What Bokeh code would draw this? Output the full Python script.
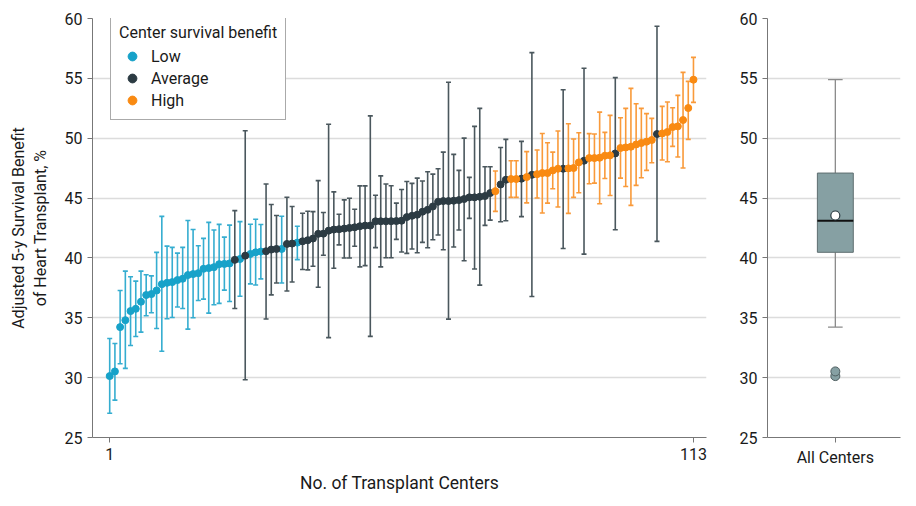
import numpy as np
from bokeh.plotting import figure
from bokeh.models import (Range1d, FixedTicker, Whisker, TeeHead, ColumnDataSource,
                          Legend, LegendItem, LinearAxis)
from bokeh.layouts import row
from bokeh.embed import file_html
from bokeh.resources import INLINE

# ---------------- data ----------------
estimate = [30.13, 30.52, 34.22, 34.80, 35.56, 35.75, 36.34, 36.90, 36.98, 37.28,
            37.81, 37.92, 37.98, 38.15, 38.26, 38.57, 38.65, 38.73, 39.09, 39.15,
            39.23, 39.48, 39.50, 39.54, 39.84, 39.91, 40.19, 40.33, 40.47, 40.53,
            40.56, 40.70, 40.75, 40.75, 41.17, 41.20, 41.28, 41.39, 41.48, 41.62,
            42.01, 42.03, 42.28, 42.37, 42.40, 42.45, 42.51, 42.56, 42.65, 42.70,
            42.70, 43.06, 43.06, 43.06, 43.07, 43.08, 43.11, 43.41, 43.52, 43.61,
            43.86, 44.02, 44.30, 44.69, 44.75, 44.75, 44.78, 44.83, 44.92, 45.06,
            45.06, 45.11, 45.17, 45.42, 45.58, 46.14, 46.53, 46.59, 46.59, 46.62,
            46.75, 46.94, 47.00, 47.09, 47.09, 47.31, 47.45, 47.45, 47.48, 47.51,
            47.98, 48.12, 48.34, 48.34, 48.37, 48.54, 48.57, 48.73, 49.18, 49.23,
            49.29, 49.48, 49.60, 49.71, 49.85, 50.35, 50.40, 50.52, 50.93, 50.99,
            51.52, 52.52, 54.89]
lower_ci = [27.03, 28.12, 31.16, 30.77, 32.69, 33.44, 33.80, 35.17, 35.42, 34.11,
            32.21, 34.92, 35.03, 35.90, 35.78, 34.05, 35.00, 36.45, 36.56, 35.39,
            36.09, 36.20, 37.31, 36.36, 35.78, 36.80, 29.82, 37.83, 37.74, 38.25,
            34.90, 36.91, 37.91, 37.91, 37.24, 37.99, 39.86, 39.03, 39.00, 39.30,
            37.55, 40.22, 33.34, 39.14, 41.09, 40.00, 40.00, 40.97, 39.25, 39.36,
            33.45, 40.86, 39.25, 40.02, 40.01, 41.55, 40.49, 40.38, 40.74, 40.43,
            41.30, 40.85, 41.52, 41.91, 40.68, 34.89, 40.91, 42.33, 39.76, 43.30,
            39.07, 37.73, 42.72, 43.16, 43.89, 43.02, 43.11, 45.06, 45.06, 43.45,
            44.60, 36.78, 45.00, 43.75, 44.58, 45.78, 44.25, 40.79, 43.72, 45.06,
            45.45, 40.32, 46.20, 46.25, 44.53, 46.64, 45.22, 42.35, 46.67, 45.97,
            44.39, 46.06, 46.70, 47.31, 47.95, 41.38, 48.18, 48.04, 49.32, 48.43,
            47.51, 49.90, 52.99]
upper_ci = [33.27, 32.85, 37.28, 38.90, 38.43, 38.06, 38.90, 38.59, 38.50, 40.46,
            43.47, 40.99, 40.88, 40.40, 40.88, 43.13, 42.38, 41.02, 41.63, 42.97,
            42.33, 42.80, 41.74, 42.74, 43.95, 43.03, 50.62, 42.81, 43.23, 42.79,
            46.18, 44.46, 43.54, 43.48, 45.07, 44.29, 42.65, 43.73, 43.90, 43.87,
            46.46, 43.79, 51.17, 45.52, 43.65, 44.85, 44.99, 44.07, 46.02, 46.02,
            51.87, 45.24, 46.85, 46.17, 46.03, 44.58, 45.72, 46.39, 46.23, 46.67,
            46.42, 47.20, 47.00, 47.45, 48.84, 54.67, 48.65, 47.31, 50.01, 46.73,
            50.99, 52.49, 47.62, 47.62, 47.26, 49.23, 49.90, 48.12, 48.12, 49.74,
            48.88, 57.15, 49.02, 50.40, 49.62, 48.84, 50.60, 54.05, 51.21, 49.93,
            50.46, 55.84, 50.38, 50.35, 52.18, 50.49, 51.91, 55.06, 51.71, 52.49,
            54.16, 52.88, 52.49, 52.05, 51.66, 59.35, 52.66, 53.02, 52.55, 53.58,
            55.50, 54.75, 56.75]
group = (["Low"] * 24 + ["Average", "Low", "Average", "Low", "Low", "Low",
          "Average", "Average", "Average", "Low", "Average", "Average", "Low"]
         + ["Average"] * 37 + ["High", "Average", "Average", "High", "High", "Average",
            "High", "Average", "High", "High", "High", "High", "High", "Average",
            "High", "High", "High", "Average", "High", "High", "High", "High", "High",
            "Average", "High", "High", "High", "High", "High", "High", "High",
            "Average", "High", "High", "High", "High", "High", "High", "High"])
center = list(range(1, len(estimate) + 1))
groups = ["Low", "Average", "High"]
x_ticks = [1, 113]
y_ticks = [25, 30, 35, 40, 45, 50, 55, 60]
box_label = "All Centers"
y_label_line1 = "Adjusted 5-y Survival Benefit"
y_label_line2 = "of Heart Transplant, %"
x_label = "No. of Transplant Centers"
legend_title = "Center survival benefit"

# ---------------- style ----------------
FONT = "Roboto"
colors = {"Low": "#17A2C9", "Average": "#2C3B43", "High": "#F98A12"}
bar_colors = {"Low": "#35ADD0", "Average": "#4A575D", "High": "#F99A3A"}
GRID = "#DCDCDC"
AXIS = "#777777"
TEXT = "#1A1A1A"


def style_axis(ax):
    ax.axis_line_color = AXIS
    ax.major_tick_line_color = AXIS
    ax.minor_tick_line_color = None
    ax.major_tick_out = 5
    ax.major_tick_in = 0
    ax.major_label_text_font = FONT
    ax.major_label_text_font_size = "16px"
    ax.major_label_text_color = TEXT
    ax.axis_label_text_font = FONT
    ax.axis_label_text_font_size = "17.5px"
    ax.axis_label_text_font_style = "normal"
    ax.axis_label_text_color = TEXT


def style_axes(fig):
    for ax in [fig.xaxis[0], fig.yaxis[0]]:
        style_axis(ax)
    fig.yaxis.ticker = FixedTicker(ticks=y_ticks)
    fig.xgrid.visible = False
    fig.ygrid.grid_line_color = GRID
    fig.ygrid.grid_line_width = 1.5
    fig.outline_line_color = None


p = figure(width=712, height=506, x_range=Range1d(-2.3, 115.5), y_range=Range1d(25, 60),
           output_backend="svg", toolbar_location=None,
           min_border_left=92, min_border_right=6, min_border_top=18, min_border_bottom=69)
style_axes(p)
p.xaxis.ticker = FixedTicker(ticks=x_ticks)
p.xaxis.axis_label = x_label
p.xaxis.axis_label_standoff = 10
p.yaxis.axis_label = y_label_line2
p.yaxis.axis_label_text_font_size = "16px"
p.yaxis.axis_label_standoff = 12

# second line of the y-axis title, carried by a bare outer axis
outer = LinearAxis(ticker=FixedTicker(ticks=[]), axis_label=y_label_line1)
style_axis(outer)
outer.axis_line_color = None
outer.major_tick_line_color = None
outer.axis_label_text_font_size = "16px"
outer.axis_label_standoff = 0
outer.major_label_standoff = 0
outer.major_tick_out = 0
p.add_layout(outer, "left")

legend_items = []
for g in groups:
    idx = [i for i, gg in enumerate(group) if gg == g]
    src = ColumnDataSource(dict(x=[center[i] for i in idx], y=[estimate[i] for i in idx],
                                lo=[lower_ci[i] for i in idx], hi=[upper_ci[i] for i in idx]))
    w = Whisker(source=src, base="x", lower="lo", upper="hi",
                line_color=bar_colors[g], line_width=1.6,
                upper_head=TeeHead(size=5, line_color=bar_colors[g], line_width=1.6),
                lower_head=TeeHead(size=5, line_color=bar_colors[g], line_width=1.6))
    p.add_layout(w)
for g in groups:
    idx = [i for i, gg in enumerate(group) if gg == g]
    src = ColumnDataSource(dict(x=[center[i] for i in idx], y=[estimate[i] for i in idx]))
    r = p.scatter("x", "y", source=src, size=7, fill_color=colors[g], line_color=colors[g])
    legend_items.append(LegendItem(label=g, renderers=[r]))

legend = Legend(items=legend_items, location=(18, 317), title=legend_title,
                title_text_font=FONT, title_text_font_size="16px", title_text_font_style="normal",
                title_text_color=TEXT, title_standoff=3,
                label_text_font=FONT, label_text_font_size="16px", label_text_color=TEXT,
                border_line_color="#555555", border_line_width=1, background_fill_alpha=1,
                padding=8, spacing=0, label_height=22, glyph_height=22, glyph_width=26,
                label_standoff=6)
p.add_layout(legend, "center")

# ---------------- box plot ----------------
vals = np.array(estimate)
q1, med, q3 = np.percentile(vals, [25, 50, 75])
iqr = q3 - q1
lo_f, hi_f = q1 - 1.5 * iqr, q3 + 1.5 * iqr
inside = vals[(vals >= lo_f) & (vals <= hi_f)]
w_lo, w_hi = inside.min(), inside.max()
outl = vals[(vals < lo_f) | (vals > hi_f)]
mean = vals.mean()

q = figure(width=204, height=506, x_range=Range1d(-0.51, 0.49), y_range=Range1d(25, 60),
           output_backend="svg", toolbar_location=None,
           min_border_left=55, min_border_right=16, min_border_top=18, min_border_bottom=69)
style_axes(q)
q.xaxis.ticker = FixedTicker(ticks=[0])
q.xaxis.major_label_overrides = {0: box_label}

q.segment(x0=[0, 0], y0=[w_lo, q3], x1=[0, 0], y1=[q1, w_hi], line_color="#8A8A8A", line_width=1.3)
q.segment(x0=[-0.055, -0.055], y0=[w_lo, w_hi], x1=[0.055, 0.055], y1=[w_lo, w_hi],
          line_color="#8A8A8A", line_width=1.3)
q.vbar(x=[0], bottom=[q1], top=[q3], width=0.27, fill_color="#86A0A3", line_color="#5E6E70",
       line_width=1)
q.segment(x0=[-0.135], y0=[med], x1=[0.135], y1=[med], line_color="#111111", line_width=2)
q.scatter(x=[0] * len(outl), y=list(outl), size=9, fill_color="#86A0A3", line_color="#4F5F61",
          line_width=1)
q.scatter(x=[0], y=[mean], size=9, fill_color="white", line_color="#2C3B43", line_width=1.2)

layout = row(p, q)
open("out.html", "w").write(file_html(layout, INLINE))
